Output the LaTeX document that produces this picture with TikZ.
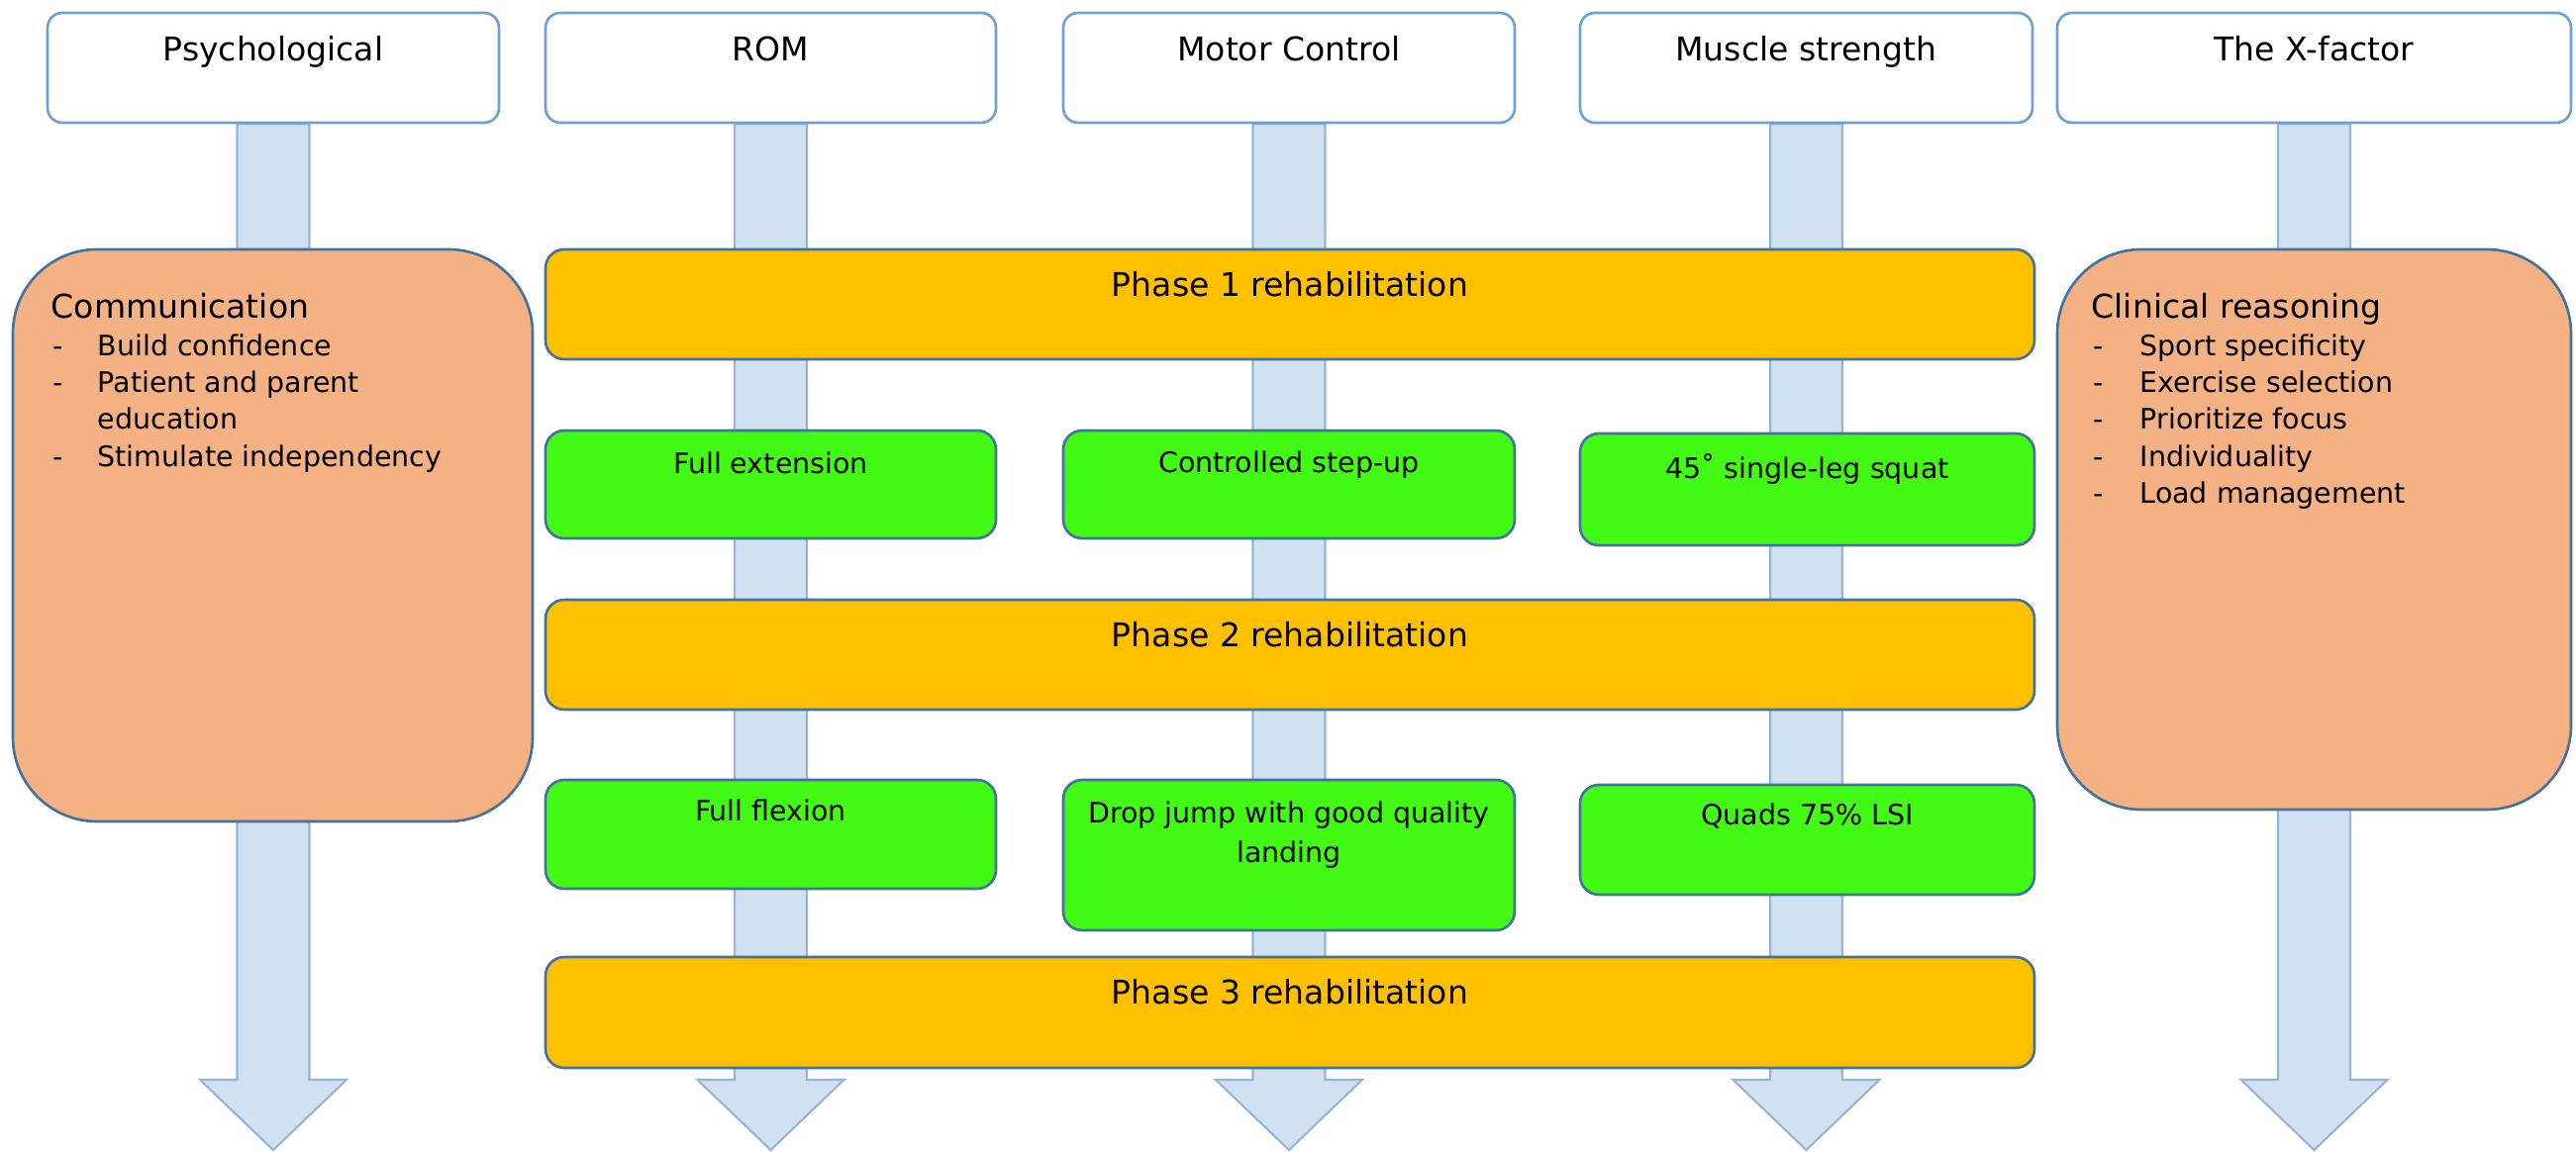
\documentclass[tikz,border=0pt]{standalone}
\usepackage{fontspec}
\setmainfont{DejaVu Sans}
\usetikzlibrary{fit,calc}
\definecolor{topedge}{RGB}{110,160,214}
\definecolor{arrfill}{RGB}{208,225,242}
\definecolor{arredge}{RGB}{152,180,212}
\definecolor{phasefill}{RGB}{255,192,0}
\definecolor{greenfill}{RGB}{66,250,20}
\definecolor{orangefill}{RGB}{244,177,131}
\definecolor{darkedge}{RGB}{66,114,158}
\pgfdeclarelayer{bg}
\pgfsetlayers{bg,main}
\begin{document}
\begin{tikzpicture}[x=0.01cm,y=-0.01cm,
  topbox/.style={draw=topedge, line width=0.75pt, fill=white, rounded corners=0.15cm, inner sep=0pt},
  phasebox/.style={draw=darkedge, line width=0.75pt, fill=phasefill, rounded corners=0.19cm, inner sep=0pt},
  greenbox/.style={draw=darkedge, line width=0.75pt, fill=greenfill, rounded corners=0.19cm, inner sep=0pt},
  sidebox/.style={draw=darkedge, line width=0.75pt, fill=orangefill, rounded corners=0.85cm, inner sep=0pt},
  blockarrow/.style={draw=arredge, line width=0.6pt, fill=arrfill},
  bigtxt/.style={font=\fontsize{9.4}{11}\selectfont, inner sep=0pt, anchor=base},
  smalltxt/.style={font=\fontsize{8.1}{11.4}\selectfont, inner sep=0pt, anchor=base},
  titletxt/.style={font=\fontsize{9.4}{11}\selectfont, inner sep=0pt, anchor=base west},
  listtxt/.style={font=\fontsize{8.1}{11}\selectfont, inner sep=0pt, anchor=base west}
]
\useasboundingbox (0,0) rectangle (2602,1164);

% top category boxes
\node[topbox, fit={(48,13) (504,124)}] (psy) {};
\node[topbox, fit={(551,13) (1006,124)}] (rom) {};
\node[topbox, fit={(1074,13) (1530,124)}] (mot) {};
\node[topbox, fit={(1596,13) (2053,124)}] (mus) {};
\node[topbox, fit={(2078,13) (2597,124)}] (xf) {};
\node[bigtxt] (psyt) at ($(psy.north)+(0,50)$) {Psychological};
\node[bigtxt] (romt) at ($(rom.north)+(0,50)$) {ROM};
\node[bigtxt] (mott) at ($(mot.north)+(0,50)$) {Motor Control};
\node[bigtxt] (must) at ($(mus.north)+(0,50)$) {Muscle strength};
\node[bigtxt] (xft) at ($(xf.north)+(0,50)$) {The X-factor};

% side boxes
\node[sidebox, fit={(13,252) (538,830)}] (comm) {};
\node[sidebox, fit={(2078,252) (2597,818)}] (clin) {};

% phase boxes
\node[phasebox, fit={(551,252) (2055,363)}] (ph1) {};
\node[phasebox, fit={(551,606) (2055,717)}] (ph2) {};
\node[phasebox, fit={(551,967) (2055,1079)}] (ph3) {};
\node[bigtxt] (ph1t) at ($(ph1.north)+(0,49)$) {Phase 1 rehabilitation};
\node[bigtxt] (ph2t) at ($(ph2.north)+(0,49)$) {Phase 2 rehabilitation};
\node[bigtxt] (ph3t) at ($(ph3.north)+(0,49)$) {Phase 3 rehabilitation};

% green milestone boxes
\node[greenbox, fit={(551,435) (1006,544)}] (ext) {};
\node[greenbox, fit={(1074,435) (1530,544)}] (step) {};
\node[greenbox, fit={(1596,438) (2055,551)}] (squat) {};
\node[greenbox, fit={(551,788) (1006,898)}] (flex) {};
\node[greenbox, fit={(1074,788) (1530,940)}] (drop) {};
\node[greenbox, fit={(1596,793) (2055,904)}] (quad) {};
\node[smalltxt] (extt) at ($(ext.north)+(0,45)$) {Full extension};
\node[smalltxt] (stept) at ($(step.north)+(0,44)$) {Controlled step-up};
\node[smalltxt] (squatt) at ($(squat.north)+(0,47)$) {45˚ single-leg squat};
\node[smalltxt] (flext) at ($(flex.north)+(0,43)$) {Full flexion};
\node[smalltxt] (dropt) at ($(drop.north)+(0,45)$) {Drop jump with good quality};
\node[smalltxt] (dropt2) at ($(drop.north)+(0,85)$) {landing};
\node[smalltxt] (quadt) at ($(quad.north)+(0,42)$) {Quads 75\% LSI};

% communication text
\node[titletxt] (commt) at (51,322) {Communication};
\foreach \y/\t [count=\i] in {360/Build confidence, 397/Patient and parent, 472/Stimulate independency}
  {\node[listtxt] (cd\i) at (53,\y) {-};
   \node[listtxt] (cl\i) at (98,\y) {\t};}
\node[listtxt] (cl4) at (98,434) {education};

% clinical reasoning text
\node[titletxt] (clint) at (2112,322) {Clinical reasoning};
\foreach \y/\t [count=\i] in {360/Sport specificity, 397/Exercise selection, 434/Prioritize focus, 472/Individuality, 509/Load management}
  {\node[listtxt] (kd\i) at (2114,\y) {-};
   \node[listtxt] (kl\i) at (2161,\y) {\t};}

% block arrows (behind)
\begin{pgfonlayer}{bg}
\fill[white] (0,0) rectangle (2602,1164);
\foreach \n in {psy,rom,mot,mus,xf}{
  \coordinate (\n tip) at (\n.south |- 0,1162);
  \draw[blockarrow] ($(\n.south)+(-36.5,0)$) -- ($(\n tip)+(-36.5,-71)$) -- ($(\n tip)+(-74,-71)$)
     -- (\n tip) -- ($(\n tip)+(74,-71)$) -- ($(\n tip)+(36.5,-71)$) -- ($(\n.south)+(36.5,0)$) -- cycle;
}
\end{pgfonlayer}
\end{tikzpicture}
\end{document}
